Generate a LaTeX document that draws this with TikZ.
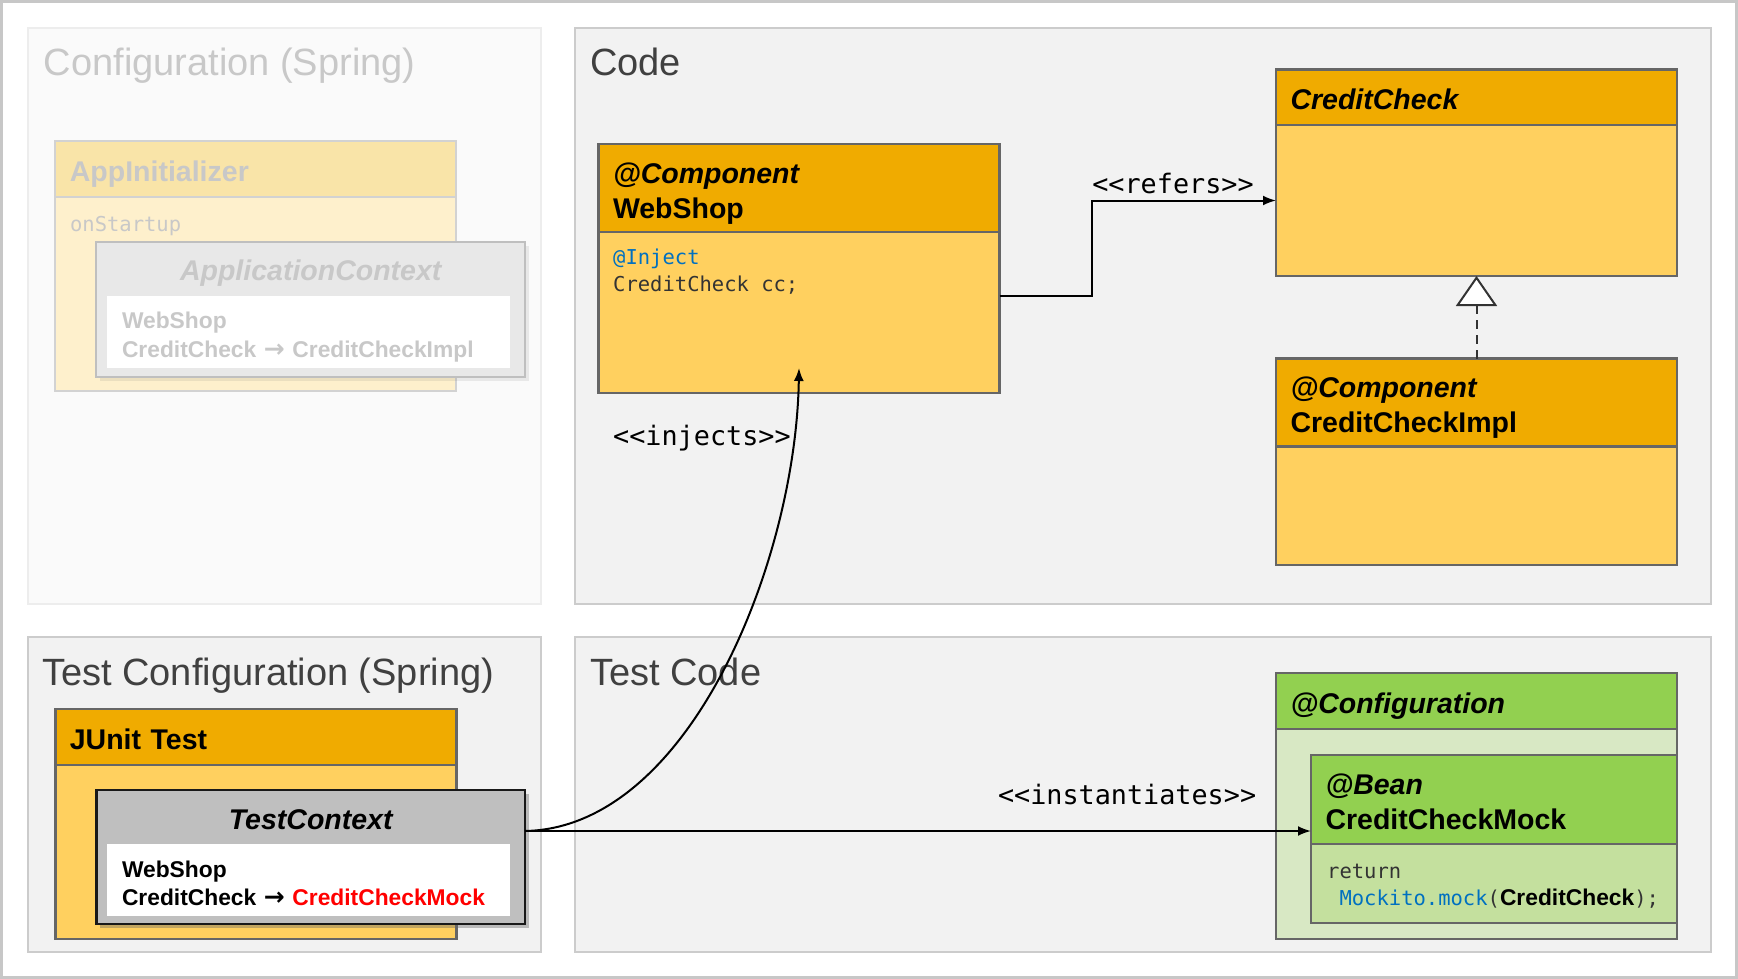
\documentclass[tikz,border=0pt]{standalone}
\usepackage{fontspec}
\setmainfont{Liberation Sans}
\newfontfamily\codefont{DejaVu Sans Mono}
\newfontfamily\symfont{DejaVu Sans}
\usepackage{xcolor}
\usepackage{tikz}
\usetikzlibrary{arrows.meta, positioning, calc, shadows}

\definecolor{orhead}{HTML}{F0AB00}
\definecolor{orbody}{HTML}{FFD05F}
\definecolor{grhead}{HTML}{92D050}
\definecolor{grbody}{HTML}{D8E8C4}
\definecolor{grbean}{HTML}{C4E09E}
\definecolor{boxline}{HTML}{666666}
\definecolor{panelfill}{HTML}{F2F2F2}
\definecolor{panelline}{HTML}{CCCCCC}
\definecolor{titlegray}{HTML}{404040}
\definecolor{fadetext}{HTML}{C8C8C8}
\definecolor{fadeline}{HTML}{D2D2D2}
\definecolor{fadehd}{HTML}{F9E4A8}
\definecolor{fadebd}{HTML}{FEF0CC}
\definecolor{codeblue}{HTML}{0070C0}
\definecolor{codegray}{HTML}{333333}

\newcommand{\hdrfont}{\rmfamily\fontsize{28.5}{35}\selectfont\bfseries}
\newcommand{\titlefont}{\rmfamily\fontsize{38}{44}\selectfont}
\newcommand{\srcfont}{\codefont\fontsize{20.5}{27}\selectfont}
\newcommand{\lblfont}{\codefont\fontsize{26.8}{32}\selectfont}
\newcommand{\mapfont}{\rmfamily\fontsize{22.8}{28.7}\selectfont\bfseries}
\newcommand{\stereo}[1]{<\kern0pt<#1>\kern0pt>}
\newcommand{\maparrow}{{\symfont\bfseries\fontsize{25}{28}\selectfont →}}

\begin{document}
\begin{tikzpicture}[
    x=1pt, y=-1pt,
    frame/.style={draw=black!22, line width=3pt, fill=white, anchor=north west, outer sep=0pt, minimum width=1735pt, minimum height=976pt},
    panel/.style={draw=panelline, fill=panelfill, line width=2.5pt, anchor=north west, outer sep=0pt},
    fadepanel/.style={panel, draw=black!7, fill=black!2},
    ptitle/.style={anchor=base west, inner sep=0pt, font=\titlefont, text=titlegray},
    hdr/.style={draw=boxline, fill=orhead, line width=2.5pt, outer sep=0pt, inner xsep=14.5pt, inner ysep=0pt, text width=372pt, align=left, anchor=north west, font=\hdrfont,
        execute at begin node={\rule{0pt}{32pt}}, execute at end node={\rule[-7pt]{0pt}{7pt}}},
    hbody/.style={draw=boxline, fill=orbody, line width=2.5pt, outer sep=0pt, minimum width=401pt},
    fadehdr/.style={hdr, draw=fadeline, fill=fadehd, text=fadetext, line width=2pt},
    fadebody/.style={hbody, draw=fadeline, fill=fadebd, line width=2pt},
    ghdr/.style={hdr, fill=grhead},
    gbody/.style={hbody, fill=grbody},
    ctx/.style={draw=black!90, fill=black!25, line width=2.5pt, anchor=north west, outer sep=0pt, minimum width=428.6pt, drop shadow={shadow xshift=4pt, shadow yshift=-4pt, opacity=0.4, fill=black!60}},
    fadectx/.style={draw=black!25, fill=black!9, line width=2pt, anchor=north west, outer sep=0pt, minimum width=428.6pt, drop shadow={shadow xshift=4pt, shadow yshift=-4pt, opacity=0.12, fill=black!60}},
    ctxtitle/.style={inner sep=0pt, anchor=base, font=\hdrfont\itshape},
    ctxmap/.style={fill=white, anchor=north west, inner xsep=15pt, inner ysep=0pt, text width=372.6pt, align=left, font=\mapfont, outer sep=0pt,
        execute at begin node={\rule{0pt}{27.7pt}}, execute at end node={\rule[-5pt]{0pt}{5pt}}},
    src/.style={font=\srcfont, align=left, inner sep=0pt, text=codegray, anchor=west},
    lbl/.style={font=\lblfont, inner sep=0pt, text=black},
    flow/.style={-{Latex[length=13pt, width=10pt]}, line width=2pt},
    realize/.style={line width=2pt, draw=black!80, dash pattern=on 9pt off 6pt, -{Triangle[length=30pt, width=41pt, fill=white, line width=2pt]}}
]
\useasboundingbox (0,0) rectangle (1738,979);
\node[frame] (frame) at (1.5,1.5) {};

\node[fadepanel, minimum width=513pt, minimum height=576pt] (cfg) at (28,28) {};
\node[panel, minimum width=1136pt, minimum height=576pt] (code) at (575,28) {};
\node[panel, minimum width=513pt, minimum height=315pt] (tcfg) at (28,637) {};
\node[panel, minimum width=1136pt, minimum height=315pt] (tcode) at (575,637) {};

\node[ptitle, text=fadetext] (cfgtitle) at ([xshift=15.6pt, yshift=-48pt]cfg.north west) {Configuration (Spring)};
\node[ptitle] (codetitle) at ([xshift=15pt, yshift=-48pt]code.north west) {Code};
\node[ptitle] (tcfgtitle) at ([xshift=14pt, yshift=-48pt]tcfg.north west) {Test Configuration (Spring)};
\node[ptitle] (tcodetitle) at ([xshift=15pt, yshift=-48pt]tcode.north west) {Test Code};

\node[fadehdr, minimum height=56pt] (aihead) at (55.4,141) {AppInitializer};
\node[fadebody, minimum height=193.5pt, below=0pt of aihead] (aibody) {};
\node[src, text=fadetext] (onstart) at ([xshift=14.5pt, yshift=-29pt]aibody.north west) {onStartup};
\node[fadectx, minimum height=135pt] (acx) at (96.4,241.6) {};
\node[ctxtitle, text=fadetext] (actitle) at ([yshift=-39pt]acx.north) {ApplicationContext};
\node[ctxmap, text=fadetext, minimum height=71.7pt] (acmap) at ([xshift=10.6pt, yshift=-54.4pt]acx.north west) {WebShop\\CreditCheck \maparrow{} CreditCheckImpl};

\node[hdr, minimum height=88pt] (wshead) at (598.5,144) {\textit{@Component}\\WebShop};
\node[hbody, minimum height=161pt, below=0pt of wshead] (wsbody) {};
\node[src] (wscode) at ([xshift=14.5pt, yshift=-40pt]wsbody.north west) {\textcolor{codeblue}{@Inject}\\CreditCheck cc;};

\node[hdr, minimum height=55.7pt] (cchead) at (1276,69.3) {\textit{CreditCheck}};
\node[hbody, minimum height=151pt, below=0pt of cchead] (ccbody) {};

\node[hdr, minimum height=88pt] (implhead) at (1276,358.7) {\textit{@Component}\\CreditCheckImpl};
\node[hbody, minimum height=118.3pt, below=0pt of implhead] (implbody) {};

\node[hdr, minimum height=56pt] (juhead) at (55.4,709) {JUnit Test};
\node[hbody, minimum height=174pt, below=0pt of juhead] (jubody) {};
\node[ctx, minimum height=134pt] (tcx) at (96.4,790) {};
\node[ctxtitle] (tctitle) at ([yshift=-39pt]tcx.north) {TestContext};
\node[ctxmap, minimum height=72pt] (tcmap) at ([xshift=10.6pt, yshift=-54pt]tcx.north west) {WebShop\\CreditCheck \maparrow{} \textcolor{red}{CreditCheckMock}};

\node[ghdr, minimum height=56pt] (cfghead) at (1276,673) {\textit{@Configuration}};
\node[gbody, minimum height=210pt, below=0pt of cfghead] (cfgbody) {};
\node[ghdr, minimum height=89pt, text width=337pt] (beanhead) at (1311,755) {\textit{@Bean}\\CreditCheckMock};
\node[gbody, fill=grbean, minimum width=366pt, minimum height=79pt, below=0pt of beanhead] (beanbody) {};
\node[src] (beancode) at ([xshift=16pt, yshift=-3pt]beanbody.west) {return\\\hphantom{x}\textcolor{codeblue}{Mockito.mock}({\mapfont\color{black}CreditCheck});};

\coordinate (tcout) at ([yshift=26pt]tcx.east);

\draw[flow] ([yshift=16.5pt]wsbody.east) -- ++(92.5,0) |- node[lbl, pos=0.75, above=5.5pt, xshift=-11pt] {\stereo{refers}} (ccbody.west);
\draw[realize] (implhead.north) -- (ccbody.south);
\draw[flow] (tcout) .. controls +(165,-3) and +(-3,192) .. ([yshift=25pt]wsbody.south);
\node[lbl, anchor=base west] (injlbl) at ([xshift=14.5pt, yshift=-52pt]wsbody.south west) {\stereo{injects}};
\draw[flow] (tcout) -- node[lbl, pos=0.766, above=24.7pt] {\stereo{instantiates}} (tcout -| beanhead.west);
\end{tikzpicture}
\end{document}
